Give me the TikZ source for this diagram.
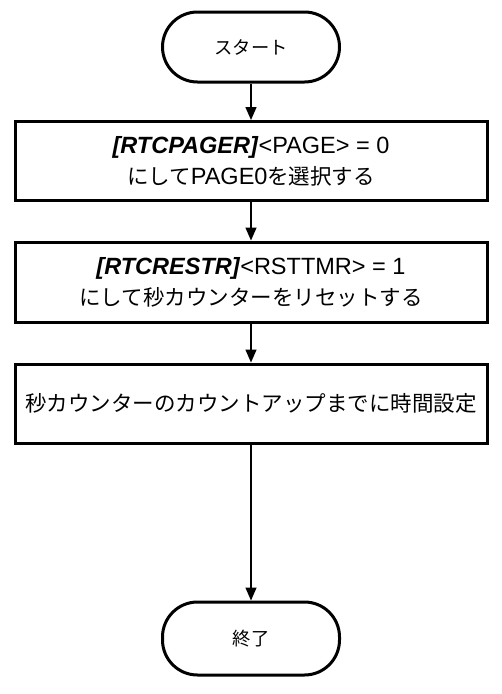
\documentclass[tikz,border=0pt]{standalone}
\usepackage{fontspec}
\setmainfont{Liberation Sans}
\newfontfamily\jp{Noto Sans CJK JP}[Scale=0.915]
\usetikzlibrary{arrows.meta}
\begin{document}
\begin{tikzpicture}[x=1pt,y=-1pt,
  term/.style={draw,line width=3pt,rounded corners=35pt,minimum width=177pt,minimum height=70pt,inner sep=0pt,font=\fontsize{20}{24}\selectfont},
  proc/.style={draw,line width=3pt,minimum width=472pt,minimum height=79pt,inner sep=0pt,align=center,font=\fontsize{23.5}{31}\selectfont},
  arr/.style={line width=1.4pt,-{Triangle[length=13pt,width=11pt]}}]
\useasboundingbox (0,0) rectangle (502,694);
\node[term] (start) at (251,47) {\jp スタート};
\node[proc] (p1) at (251,161) {\textbf{\textit{[RTCPAGER]}}<PAGE> = 0\\{\jp にして}PAGE0{\jp を選択する}};
\node[proc,minimum height=80pt] (p2) at (251,282) {\textbf{\textit{[RTCRESTR]}}<RSTTMR> = 1\\{\jp にして秒カウンターをリセットする}};
\node[proc] (p3) at (251,403.5) {\jp 秒カウンターのカウントアップまでに時間設定};
\node[term,minimum height=73pt] (end) at (251,638.5) {\jp 終了};
\draw[arr] (start) -- (p1);
\draw[arr] (p1) -- (p2);
\draw[arr] (p2) -- (p3);
\draw[arr] (p3) -- (end);
\end{tikzpicture}
\end{document}
